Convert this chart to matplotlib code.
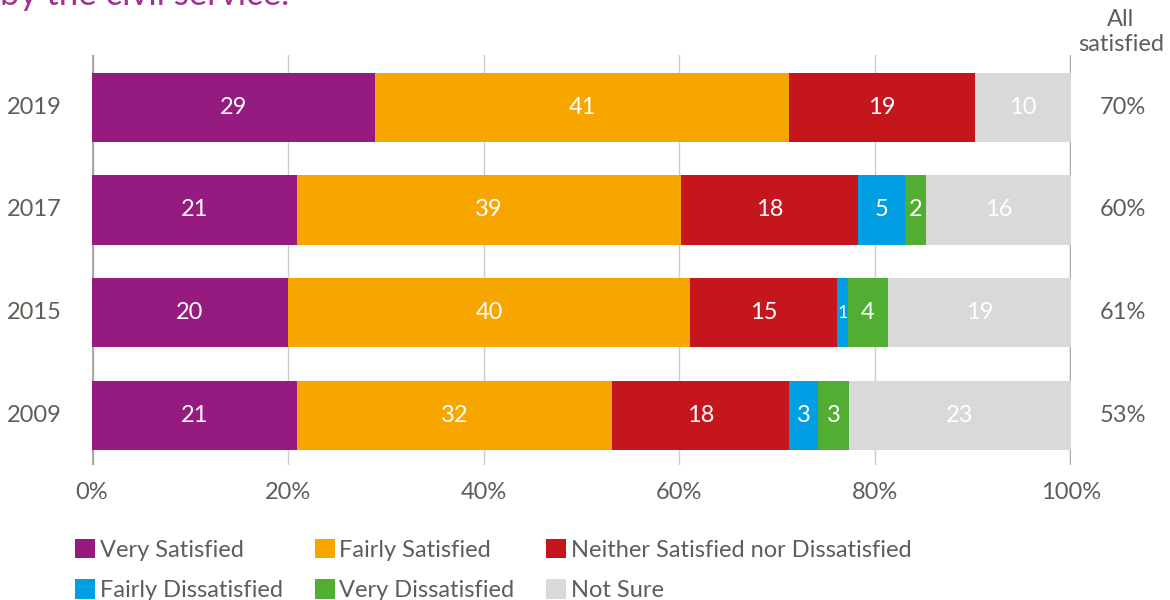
import matplotlib.pyplot as plt
from matplotlib.patches import Patch

plt.rcParams["font.family"] = ["Lato", "DejaVu Sans"]

years = ["2019", "2017", "2015", "2009"]
categories = ["Very Satisfied", "Fairly Satisfied",
              "Neither Satisfied nor Dissatisfied",
              "Fairly Dissatisfied", "Very Dissatisfied", "Not Sure"]
colors = ["#951b81", "#f7a600", "#c4161c", "#009fe3", "#52ae32", "#d9d9d9"]

# bar widths (percent), per category, years in order above
widths = [
    [28.9, 20.9, 20.0, 20.9],
    [42.3, 39.3, 41.1, 32.2],
    [19.0, 18.0, 15.0, 18.1],
    [0.0, 4.8, 1.1, 3.0],
    [0.0, 2.2, 4.1, 3.1],
    [9.8, 14.8, 18.7, 22.7],
]
# printed labels
labels = [
    ["29", "21", "20", "21"],
    ["41", "39", "40", "32"],
    ["19", "18", "15", "18"],
    ["", "5", "1", "3"],
    ["", "2", "4", "3"],
    ["10", "16", "19", "23"],
]
all_satisfied = ["70%", "60%", "61%", "53%"]

grey = "#5e5e58"

fig = plt.figure(figsize=(11.7, 6), dpi=100)
ax = fig.add_axes([92 / 1170, 1 - 465 / 600, (1071 - 92) / 1170, 410 / 600])

ypos = [3, 2, 1, 0]
for x in [20, 40, 60, 80]:
    ax.axvline(x, color="#cccccc", lw=1, zorder=0)
ax.axvline(0, color="#aaaaaa", lw=2.5, zorder=0)
ax.axvline(100, color="#aaaaaa", lw=2.5, zorder=0)

left = [0.0] * 4
for i, cat in enumerate(categories):
    ax.barh(ypos, widths[i], left=left, height=0.67, color=colors[i], zorder=2)
    for j in range(4):
        if labels[i][j]:
            fs = 17 if widths[i][j] > 2 else 13
            ax.text(left[j] + widths[i][j] / 2, ypos[j], labels[i][j],
                    ha="center", va="center", color="white", fontsize=fs, zorder=3)
        left[j] += widths[i][j]

ax.set_xlim(0, 100)
ax.set_ylim(-0.476, 3.505)
ax.set_yticks([])
ax.set_xticks([0, 20, 40, 60, 80, 100])
ax.set_xticklabels(["0%", "20%", "40%", "60%", "80%", "100%"], color=grey, fontsize=17)
ax.tick_params(axis="x", length=0, pad=12)
for s in ax.spines.values():
    s.set_visible(False)

for j in range(4):
    ax.text(-3.1, ypos[j], years[j], ha="right", va="center", color=grey, fontsize=17)
    ax.text(105.3, ypos[j], all_satisfied[j], ha="center", va="center",
            color=grey, fontsize=17)
fig.text(1121 / 1170, 1 - 32 / 600, "All\nsatisfied", ha="center", va="center",
         color=grey, fontsize=17, linespacing=1.2)

fig.text(0, 1 - 5 / 600, "by the civil service.", ha="left", va="baseline",
         color="#a03190", fontsize=25)

# legend fills column by column, so order entries to read row by row
order = [0, 3, 1, 4, 2, 5]
handles = [Patch(facecolor=colors[k], edgecolor="none") for k in order]
names = [categories[k] for k in order]
leg = fig.legend(handles, names, loc="upper left", ncol=3,
                 bbox_to_anchor=(56 / 1170, 1 - 520 / 600), frameon=False,
                 fontsize=17, handlelength=0.85, handleheight=0.9, handletextpad=0.2,
                 columnspacing=1.35, labelspacing=0.78, borderpad=0.3)
for t in leg.get_texts():
    t.set_color(grey)

fig.savefig("out.png", dpi=100)
